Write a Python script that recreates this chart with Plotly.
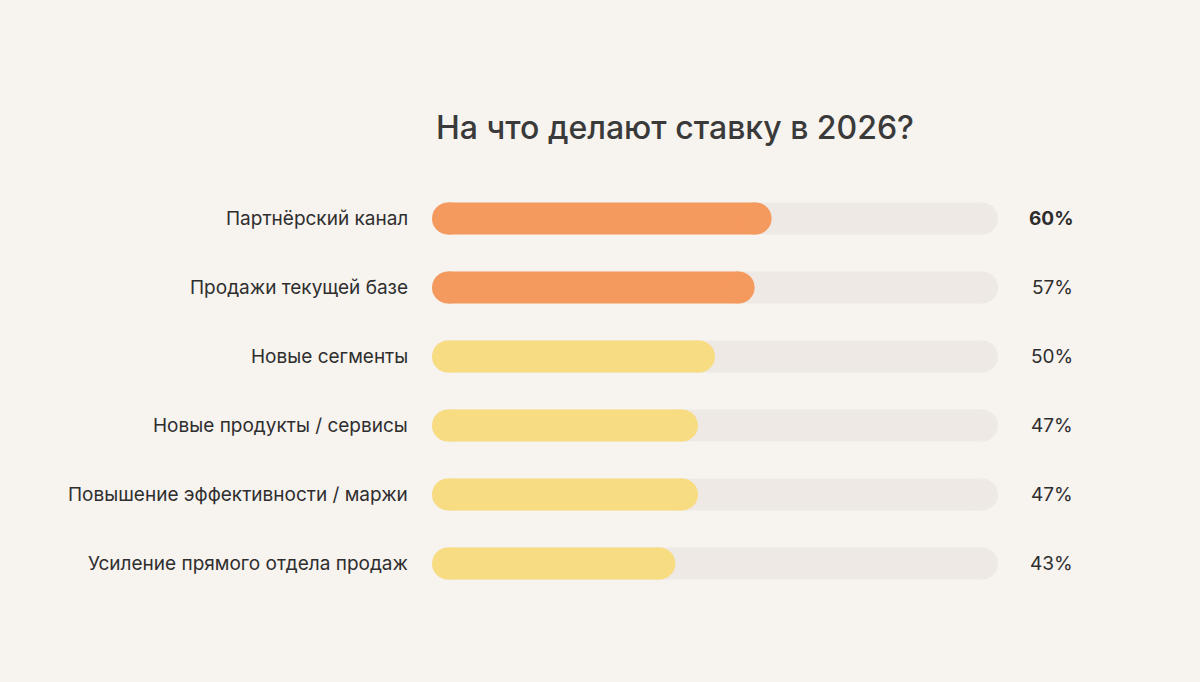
import plotly.graph_objects as go

categories = ["Партнёрский канал", "Продажи текущей базе", "Новые сегменты",
              "Новые продукты / сервисы", "Повышение эффективности / маржи",
              "Усиление прямого отдела продаж"]
values = [60, 57, 50, 47, 47, 43]
colors = ["#F59A5E", "#F59A5E", "#F8DC82", "#F8DC82", "#F8DC82", "#F8DC82"]
track_color = "#EEE9E4"
bg = "#F7F3EF"

L, R, T, B = 432, 202, 184, 84
W = 1200 - L - R
thick = 32
r = (thick / 2) / W * 100  # radius in data units

fig = go.Figure()
for i, (c, v, col) in enumerate(zip(categories, values, colors)):
    fig.add_trace(go.Scatter(x=[r, 100 - r], y=[i, i], mode="lines+markers",
                             line=dict(color=track_color, width=thick),
                             marker=dict(color=track_color, size=thick, line=dict(width=0)),
                             hoverinfo="skip", showlegend=False))
    fig.add_trace(go.Scatter(x=[r, v - r], y=[i, i], mode="lines+markers",
                             line=dict(color=col, width=thick),
                             marker=dict(color=col, size=thick, line=dict(width=0)),
                             name=c, showlegend=False))
    fig.add_annotation(x=0, xref="paper", y=i, yref="y", text=c, showarrow=False,
                       xanchor="right", xshift=-22, font=dict(size=19, color="#2e2e2e"))
    txt = f"<b>{v}%</b>" if i == 0 else f"{v}%"
    fig.add_annotation(x=1, xref="paper", y=i, yref="y", text=txt, showarrow=False,
                       xanchor="right", xshift=77, font=dict(size=19, color="#2e2e2e"))

fig.update_layout(
    width=1200, height=682, paper_bgcolor=bg, plot_bgcolor=bg,
    margin=dict(l=L, r=R, t=T, b=B),
    font=dict(family="Inter, Roboto, sans-serif"),
    title=dict(text="На что делают ставку в 2026?", x=0.5625, xanchor="center",
               y=1 - 128 / 682, yanchor="middle",
               font=dict(size=32, color="#3a3a3a", weight=500)),
    xaxis=dict(range=[0, 100], visible=False, fixedrange=True),
    yaxis=dict(range=[5.5, -0.5], visible=False, fixedrange=True),
)
fig.write_html("out.html", config={"displayModeBar": False},
               post_script="document.body.style.margin='0';document.body.style.background='#F7F3EF';")
